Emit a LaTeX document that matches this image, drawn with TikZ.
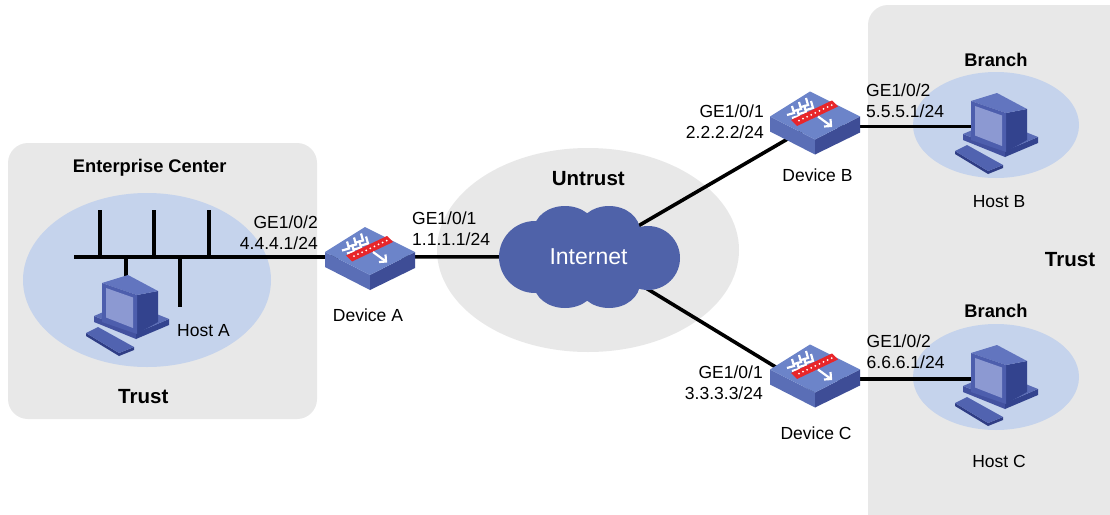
\documentclass[tikz,border=0pt]{standalone}
\usepackage{fontspec}
\setmainfont{Liberation Sans}
\usetikzlibrary{calc}
\pgfdeclarelayer{zone}
\pgfdeclarelayer{links}
\pgfsetlayers{zone,links,main}

\definecolor{zonegray}{HTML}{E8E8E8}
\definecolor{lanblue}{HTML}{C5D3EC}
\definecolor{cloudblue}{HTML}{4F62A9}
\definecolor{devtop}{HTML}{6C84C9}
\definecolor{devleft}{HTML}{5A6EB6}
\definecolor{devright}{HTML}{3E4D96}
\definecolor{fwred}{HTML}{E8262A}
\definecolor{pcbezel}{HTML}{4D5EAD}
\definecolor{pcscreen}{HTML}{8C99D2}
\definecolor{pctop}{HTML}{6275BF}
\definecolor{pcside}{HTML}{33438E}
\definecolor{pcbasetop}{HTML}{5A6CB6}
\definecolor{pcbasefront}{HTML}{42519F}
\definecolor{pckey}{HTML}{5163B0}
\definecolor{pcdark}{HTML}{2F3D85}

\tikzset{
  link/.style={line width=3.6pt, black},
  buslink/.style={line width=4pt, black},
  chev/.style={white, line width=2.2pt, line join=miter, line cap=butt},
  lbl/.style={font=\fontsize{17.5}{21}\selectfont, inner sep=0pt},
  plainlbl/.style={font=\fontsize{17.5}{21}\selectfont, inner sep=0pt, anchor=base},
  zonelbl/.style={font=\bfseries\fontsize{20.5}{24}\selectfont, inner sep=0pt, anchor=base},
  sitelbl/.style={font=\bfseries\fontsize{18.3}{22}\selectfont, inner sep=0pt, anchor=base},
  devnode/.style={inner sep=0pt, minimum width=92pt, minimum height=64pt},
  hostnode/.style={inner sep=0pt, minimum width=84pt, minimum height=80pt},
  % firewall device: isometric slab with red wall and white arrows
  fwdev/.pic={
    \fill[devleft] (-45,-7) -- (0,16) -- (0,31) -- (-45,8) -- cycle;
    \fill[devright] (0,16) -- (45,-7) -- (45,9) -- (0,31) -- cycle;
    \fill[devtop] (-45,-7) -- (-5,-32) -- (45,-7) -- (0,16) -- cycle;
    \foreach \a/\b in {-21/-10.5,-14/-14.5,-7/-18.5,-16/-7.5,-9/-11.5,-2/-15.5}
      \draw[chev] (\a-2,\b-7) -- (\a,\b) -- (\a-7,\b+2);
    \fill[fwred] (-24,-3.5) -- (17,-23) -- (23,-17) -- (-18,2.5) -- cycle;
    \foreach \t in {0.12,0.22,...,0.95}
      \fill[white] ($(-21,-0.5)!\t!(20,-20)$) circle[radius=1];
    \draw[chev] (3,-7) -- (16,2.5);
    \draw[chev] (15.5,-4.5) -- (16,2.5) -- (9,3);
  },
  % desktop computer
  pcicon/.pic={
    \fill[pcbasefront] (-33,2) -- (9,19) -- (9,25) -- (-33,8) -- cycle;
    \fill[pcside] (9,19) -- (42,5) -- (42,11) -- (9,25) -- cycle;
    \fill[pcbasetop] (-33,2) -- (0,-12) -- (42,5) -- (9,19) -- cycle;
    \fill[pcside] (10,-19) -- (31,-23) -- (31,8) -- (10,20) -- cycle;
    \fill[pctop] (-25,-31) -- (1,-39) -- (31,-23) -- (10,-19) -- cycle;
    \fill[pcbezel] (-25,-31) -- (10,-19) -- (10,20) -- (-25,8) -- cycle;
    \fill[pcscreen] (-21,-26) -- (6,-16.5) -- (6,14) -- (-21,3.5) -- cycle;
    \fill[pcdark] (-41,19) -- (-8,39) -- (-8,42) -- (-41,22) -- cycle;
    \fill[pcdark] (-8,39) -- (7,33) -- (7,36) -- (-8,42) -- cycle;
    \fill[pckey] (-29,13) -- (7,33) -- (-8,39) -- (-41,19) -- cycle;
  }
}

\begin{document}
\begin{tikzpicture}[x=1pt,y=-1pt]
\useasboundingbox (0,0) rectangle (1110,514);

% zones
\begin{pgfonlayer}{zone}
  \fill[white] (0,0) rectangle (1110,514);
  \begin{scope}
    \clip (0,0) rectangle (1110,514);
    \fill[zonegray, rounded corners=20pt] (868,5) rectangle (1150,560);
  \end{scope}
  \fill[zonegray, rounded corners=20pt] (8,143) rectangle (317,419);
  \fill[zonegray] (588,250) ellipse[x radius=151, y radius=102];
  \fill[lanblue] (147,280) ellipse[x radius=124, y radius=87];
  \fill[lanblue] (996,125) ellipse[x radius=83, y radius=53];
  \fill[lanblue] (996,377) ellipse[x radius=83, y radius=53];
\end{pgfonlayer}

% Internet cloud
\fill[cloudblue]
  (535,257) circle[radius=36]
  (648,258) circle[radius=32]
  (565,230) ellipse[x radius=31, y radius=24]
  (609,231) ellipse[x radius=31, y radius=25]
  (565,284) ellipse[x radius=31, y radius=24]
  (609,283) ellipse[x radius=31, y radius=25]
  (590,257) ellipse[x radius=72, y radius=42];
\node[font=\fontsize{23}{27}\selectfont, text=white, inner sep=0pt] (cloud) at (588.5,256.7) {Internet};

% firewalls
\node[devnode] (devA) at (370,259) {};
\node[devnode] (devB) at (815,123.5) {};
\node[devnode] (devC) at (815,376.5) {};
\pic at (devA) {fwdev};
\pic at (devB) {fwdev};
\pic at (devC) {fwdev};

% hosts
\node[hostnode] (hostA) at (127,314) {};
\node[hostnode] (hostB) at (996,132) {};
\node[hostnode] (hostC) at (996,384) {};
\pic at (hostA) {pcicon};
\pic at (hostB) {pcicon};
\pic at (hostC) {pcicon};

% LAN bus of the enterprise center
\coordinate (busL) at (74,257);
\coordinate (tap1) at (100,257);  \coordinate (end1) at (100,210);
\coordinate (tap2) at (154,257);  \coordinate (end2) at (154,210);
\coordinate (tap3) at (209,257);  \coordinate (end3) at (209,210);
\coordinate (tap4) at (180,257);  \coordinate (end4) at (180,307);
\coordinate (tapA) at (126,257);

\begin{pgfonlayer}{links}
  \draw[buslink] (busL) -- ($(devA)+(0,-2)$);
  \draw[buslink] (tap1) -- (end1);
  \draw[buslink] (tap2) -- (end2);
  \draw[buslink] (tap3) -- (end3);
  \draw[buslink] (tap4) -- (end4);
  \draw[buslink] (tapA) -- ($(hostA)+(-1,-30)$);
  \draw[link] ($(devA)+(0,-2)$) -- (cloud);
  \draw[link] ($(cloud)+(1.5,-2.7)$) -- ($(devB)+(0,-0.5)$);
  \draw[link] ($(cloud)+(1.5,-2.7)$) -- ($(devC)+(0,14.5)$);
  \draw[link] ($(devB)+(0,3)$) -- ($(hostB)+(-16,-5.5)$);
  \draw[link] ($(devC)+(0,2.5)$) -- ($(hostC)+(-16,-5)$);
\end{pgfonlayer}

% zone and site titles
\node[sitelbl] (entc) at (149.7,172.4) {Enterprise Center};
\node[zonelbl] (trustA) at (143.3,403.1) {Trust};
\node[zonelbl] (untrust) at (588.3,185.6) {Untrust};
\node[zonelbl] (trustR) at (1070,266.3) {Trust};
\node[sitelbl] (branchB) at (996,66.5) {Branch};
\node[sitelbl] (branchC) at (996,317.5) {Branch};

% device and host names
\node[plainlbl] (nameA) at (368,321.8) {Device A};
\node[plainlbl] (nameB) at (817.5,181.3) {Device B};
\node[plainlbl] (nameC) at (816,439.3) {Device C};
\node[plainlbl] (nameHA) at (203.5,336) {Host A};
\node[plainlbl] (nameHB) at (999,207.3) {Host B};
\node[plainlbl] (nameHC) at (999,467.3) {Host C};

% interface addresses
\node[lbl, anchor=east, align=right] (ifA2) at (318,232.3) {GE1/0/2\\4.4.4.1/24};
\node[lbl, anchor=west, align=left] (ifA1) at (412,229) {GE1/0/1\\1.1.1.1/24};
\node[lbl, anchor=east, align=right] (ifB1) at (764,121.5) {GE1/0/1\\2.2.2.2/24};
\node[lbl, anchor=west, align=left] (ifB2) at (866,101) {GE1/0/2\\5.5.5.1/24};
\node[lbl, anchor=east, align=right] (ifC1) at (763,383) {GE1/0/1\\3.3.3.3/24};
\node[lbl, anchor=west, align=left] (ifC2) at (866.5,351.7) {GE1/0/2\\6.6.6.1/24};
\end{tikzpicture}
\end{document}
